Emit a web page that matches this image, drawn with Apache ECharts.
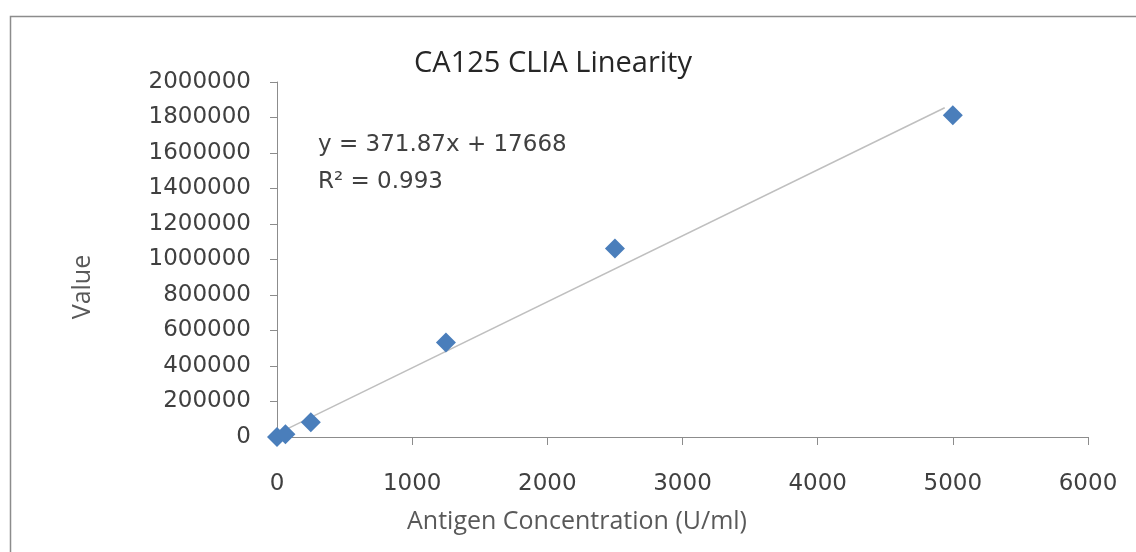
<!DOCTYPE html>
<html><head><meta charset="utf-8">
<script src="https://cdn.jsdelivr.net/npm/echarts@6/dist/echarts.min.js"></script>
<style>html,body{margin:0;padding:0;background:#fff}#c{width:1136px;height:552px}</style>
</head><body><div id="c"></div>
<script>
const concentrations = [0, 62.5, 250, 1250, 2500, 5000];
const values = [0, 15000, 83000, 532000, 1062000, 1812000];
const trendSlope = 371.87;
const trendIntercept = 17668;
const trendRangeX = [0, 4940];
const xTicks = [0, 1000, 2000, 3000, 4000, 5000, 6000];
const yTicks = [0, 200000, 400000, 600000, 800000, 1000000, 1200000, 1400000, 1600000, 1800000, 2000000];
const titleText = 'CA125 CLIA Linearity';
const equationText = 'y = 371.87x + 17668';
const r2Text = 'R² = 0.993';
const xName = 'Antigen Concentration (U/ml)';
const yName = 'Value';

const points = concentrations.map((x, i) => [x, values[i]]);
const trend = trendRangeX.map(x => [x, trendSlope * x + trendIntercept]);

const chart = echarts.init(document.getElementById('c'), null, {renderer: 'canvas'});
const labelFont = '"DejaVu Sans", sans-serif';
const textFont = '"Open Sans", sans-serif';
chart.setOption({
  animation: false,
  backgroundColor: '#fff',
  grid: {left: 277, right: 48, top: 82, bottom: 115, containLabel: false},
  xAxis: {
    type: 'value', min: xTicks[0], max: xTicks[xTicks.length - 1], interval: 1000,
    axisLine: {show: true, lineStyle: {color: '#8c8c8c', width: 1}},
    axisTick: {show: true, inside: false, length: 8, lineStyle: {color: '#8c8c8c'}},
    axisLabel: {margin: 36, color: '#404040', fontSize: 23, fontFamily: labelFont, formatter: v => String(v)},
    splitLine: {show: false}
  },
  yAxis: {
    type: 'value', min: yTicks[0], max: yTicks[yTicks.length - 1], interval: 200000,
    axisLine: {show: true, lineStyle: {color: '#8c8c8c', width: 1}},
    axisTick: {show: true, inside: false, length: 7, lineStyle: {color: '#8c8c8c'}},
    axisLabel: {margin: 26, color: '#404040', fontSize: 23, fontFamily: labelFont, formatter: v => String(v)},
    splitLine: {show: false}
  },
  graphic: [
    {type: 'rect', left: 8, top: 14, shape: {width: 1200, height: 600}, style: {fill: 'none', stroke: '#8c8c8c', lineWidth: 1.5}, silent: true, z: -1},
    {type: 'text', style: {text: titleText, x: 553, y: 64, align: 'center', verticalAlign: 'middle', font: '29px ' + textFont, fill: '#262626'}},
    {type: 'text', style: {text: equationText, x: 318, y: 145, align: 'left', verticalAlign: 'middle', font: '23px ' + labelFont, fill: '#404040'}},
    {type: 'text', style: {text: r2Text, x: 318, y: 182, align: 'left', verticalAlign: 'middle', font: '23px ' + labelFont, fill: '#404040'}},
    {type: 'text', style: {text: xName, x: 577, y: 522, align: 'center', verticalAlign: 'middle', font: '25px ' + textFont, fill: '#595959'}},
    {type: 'text', rotation: Math.PI / 2, x: 83, y: 287, style: {text: yName, x: 0, y: 0, align: 'center', verticalAlign: 'middle', font: '25px ' + textFont, fill: '#595959'}}
  ],
  series: [
    {type: 'line', data: trend, showSymbol: false, symbol: 'none', lineStyle: {color: '#bfbfbf', width: 1.5}, z: 1, silent: true},
    {type: 'scatter', data: points, symbol: 'diamond', symbolSize: 20, itemStyle: {color: '#4a7ebb', opacity: 1}, z: 2}
  ]
});
</script></body></html>
